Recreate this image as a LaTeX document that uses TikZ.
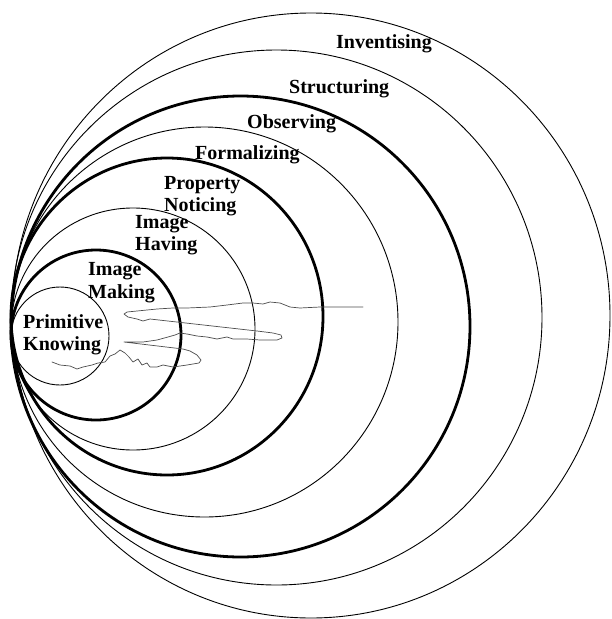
\documentclass[tikz,border=0pt]{standalone}
\usepackage{fontspec}
\setmainfont{Liberation Serif}
\tikzset{
  ringthin/.style={draw=black, line width=0.9pt},
  ringthick/.style={draw=black, line width=2.8pt},
  stage/.style={font=\bfseries\fontsize{20}{22.5}\selectfont, inner sep=0pt, anchor=base west, align=left},
  scribble/.style={draw=black!70, line width=0.7pt, line join=round, line cap=round},
}

\begin{document}
\begin{tikzpicture}[x=1pt, y=-1pt]
    \useasboundingbox (0,0) rectangle (611,619);
    % define ring centres
    \coordinate (pk_c) at (60,336);
    \coordinate (im_c) at (96,335);
    \coordinate (ih_c) at (133,329);
    \coordinate (pn_c) at (167,316.5);
    \coordinate (fo_c) at (204.5,322);
    \coordinate (ob_c) at (240.5,326.5);
    \coordinate (st_c) at (276.5,317.5);
    \coordinate (in_c) at (311,315.5);
    % draw rings
    \draw[ringthin]  (pk_c) ellipse [x radius=49pt, y radius=49pt];
    \draw[ringthick] (im_c) ellipse [x radius=85pt, y radius=85pt];
    \draw[ringthin]  (ih_c) ellipse [x radius=122pt, y radius=121pt];
    \draw[ringthick] (pn_c) ellipse [x radius=156pt, y radius=158.5pt];
    \draw[ringthin]  (fo_c) ellipse [x radius=193.5pt, y radius=195pt];
    \draw[ringthick] (ob_c) ellipse [x radius=229.5pt, y radius=230.5pt];
    \draw[ringthin]  (st_c) ellipse [x radius=265.5pt, y radius=267.5pt];
    \draw[ringthin]  (in_c) ellipse [x radius=299pt, y radius=302.5pt];
    % folding back path
    \draw[scribble] (363,307) -- (320,307) -- (300,308) -- (290,307) -- (285,305)
        -- (280,303) -- (270,302) -- (263,304) -- (253,303) -- (243,303) -- (227,305)
        -- (210,307) -- (187,308) -- (173,308) -- (157,309) -- (137,311) -- (127,312)
        -- (124,314) -- (128,317) -- (137,319) -- (143,321) -- (150,319) -- (257,331)
        -- (273,333) -- (281,335) -- (282,338) -- (277,340) -- (260,340) -- (247,339)
        -- (233,339) -- (227,337) -- (217,339) -- (207,337) -- (197,336) -- (187,334)
        -- (180,333) -- (175,335) -- (168,337) -- (157,340) -- (143,342) -- (124,342)
        -- (183,349) -- (190,351) -- (197,355) -- (201,360) -- (199,363) -- (187,365)
        -- (173,367) -- (163,365) -- (157,367) -- (150,367) -- (147,363) -- (142,365)
        -- (138,359) -- (133,362) -- (129,357) -- (125,353) -- (120,350) -- (115,354)
        -- (110,356) -- (105,362) -- (98,363) -- (92,365) -- (83,367) -- (77,369)
        -- (70,366) -- (60,365) -- (52,362);
    % add labels (two-line labels sit on their last baseline)
    \node[stage] (inventising) at (336,48.5) {Inventising};
    \node[stage] (structuring) at (289,93) {Structuring};
    \node[stage] (observing) at (247,128) {Observing};
    \node[stage] (formalizing) at (195,159.5) {Formalizing};
    \node[stage] (property) at (164,211.5) {Property\\Noticing};
    \node[stage] (having) at (135,250.5) {Image\\Having};
    \node[stage] (making) at (88,298) {Image\\Making};
    \node[stage] (primitive) at (23,350.5) {Primitive\\Knowing};
\end{tikzpicture}
\end{document}
